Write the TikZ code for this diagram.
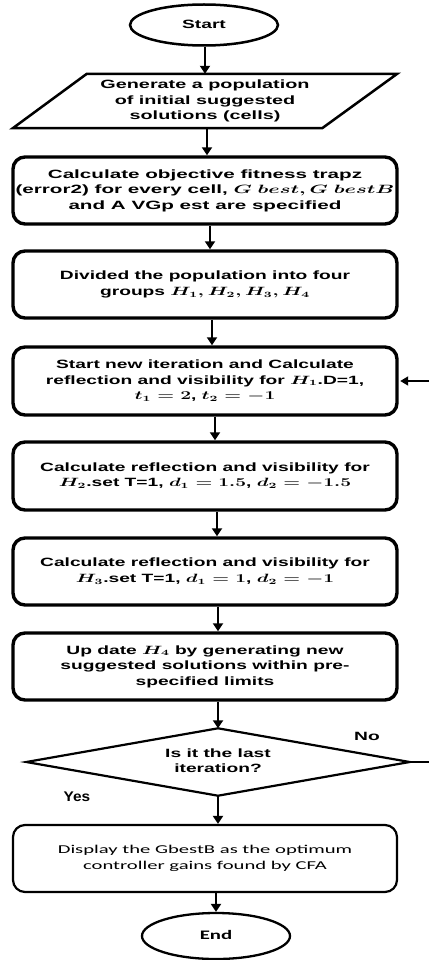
\documentclass[tikz,border=0pt]{standalone}
\usepackage{fontspec}
\usepackage{graphicx}
\setmainfont{Liberation Sans}
\newfontfamily\carlitofont{Carlito}
\usetikzlibrary{arrows.meta,shapes.geometric,calc}
\newcommand{\sx}[2][1.6]{\scalebox{#1}[1]{\boldmath\begin{tabular}{@{}c@{}}#2\end{tabular}}}
\tikzset{
  base/.style={font=\bfseries\fontsize{12}{15.6}\selectfont, inner sep=0pt, align=center},
  ell/.style={base, draw, ellipse, line width=2.5pt, minimum width=148pt},
  box/.style={base, draw, rounded corners=12pt, line width=3.4pt, minimum width=384pt},
  thinbox/.style={base, draw, rounded corners=12pt, line width=2.2pt, minimum width=384pt},
  arr/.style={line width=2.8pt, -{Triangle[width=10pt,length=8pt]}},
  arrthin/.style={line width=1.8pt, -{Triangle[width=9pt,length=8pt]}},
  lbl/.style={base}
}
\begin{document}
\begin{tikzpicture}[x=1pt,y=1pt]
\useasboundingbox (0,0) rectangle (429,-960);
\fill[white] (0,0) rectangle (429,-960);

\node[ell, minimum height=41pt] (start) at (204,-25) {\sx{Start}};

\node[base, minimum width=384pt, minimum height=54pt] (gen) at (205,-101)
  {\sx[1.65]{Generate a population\\of initial suggested\\solutions (cells)}};
\draw[line width=2.5pt, line join=miter]
  ($(gen.south west)$) -- ($(gen.south east)+(-75,0)$) -- (gen.north east)
  -- ($(gen.north west)+(74,0)$) -- cycle;

\node[box, minimum height=67pt] (obj) at (205,-190.5)
  {\sx[1.72]{Calculate objective fitness trapz\\(error2) for every cell, $G\ best, G\ bestB$\\and A VGp est are specified}};

\node[box, minimum height=67pt] (div) at (205,-284.5)
  {\sx{Divided the population into four\\groups $H_1, H_2, H_3, H_4$}};

\node[box, minimum height=68pt] (it1) at (205,-381)
  {\sx{Start new iteration and Calculate\\reflection and visibility for $H_1$.D=1,\\$t_1=2$, $t_2=-1$}};

\node[box, minimum height=68pt] (h2) at (205,-476)
  {\sx{Calculate reflection and visibility for\\$H_2$.set T=1, $d_1=1.5$, $d_2=-1.5$}};

\node[box, minimum height=67pt] (h3) at (205,-571.5)
  {\sx{Calculate reflection and visibility for\\$H_3$.set T=1, $d_1=1$, $d_2=-1$}};

\node[box, minimum height=67pt] (h4) at (205,-666.5)
  {\sx{Up date $H_4$ by generating new\\suggested solutions within pre-\\specified limits}};

\node[base, minimum width=383pt, minimum height=67pt] (dia) at (218,-762)
  {\sx{Is it the last\\iteration?}};
\draw[line width=2.2pt, line join=miter]
  (dia.north) -- (dia.east) -- (dia.south) -- (dia.west) -- cycle;

\node[thinbox, minimum height=67pt] (disp) at (205,-858.5)
  {\carlitofont\mdseries\fontsize{12}{15.6}\selectfont\sx[1.72]{Display the GbestB as the optimum\\controller gains found by CFA}};

\node[ell, line width=2.3pt, minimum height=46pt] (end) at (216,-936)
  {\carlitofont\fontsize{13}{15}\selectfont\sx{End}};

\node[lbl] (no) at (367,-737) {\sx{No}};
\node[lbl, font=\bfseries\fontsize{14}{16}\selectfont] (yes) at (77,-797) {\scalebox{1.1}[1]{Yes}};

\coordinate (fbR) at (429,-762);
\coordinate (fbT) at (429,-381);

\draw[arr] ([xshift=1pt]start.south) -- ([xshift=1pt]start.south |- gen.north);
\draw[arr] ([xshift=2pt]gen.south) -- ([xshift=2pt]obj.north);
\draw[arr] ([xshift=5pt]obj.south) -- ([xshift=5pt]div.north);
\draw[arr] ([xshift=7pt]div.south) -- ([xshift=7pt]it1.north);
\draw[arr] ([xshift=10pt]it1.south) -- ([xshift=10pt]h2.north);
\draw[arr] ([xshift=12pt]h2.south) -- ([xshift=12pt]h3.north);
\draw[arr] (h3.south -| dia.north) -- (h4.north -| dia.north);
\draw[arr] (h4.south -| dia.north) -- (dia.north);
\draw[arr] (dia.south) -- (dia.south |- disp.north);
\draw[arr] (end.north |- disp.south) -- (end.north);

\draw[line width=1.8pt] (dia.east) -- (fbR);
\draw[arrthin, shorten >=1.5pt] (fbT) -- (it1.east);
\end{tikzpicture}
\end{document}
